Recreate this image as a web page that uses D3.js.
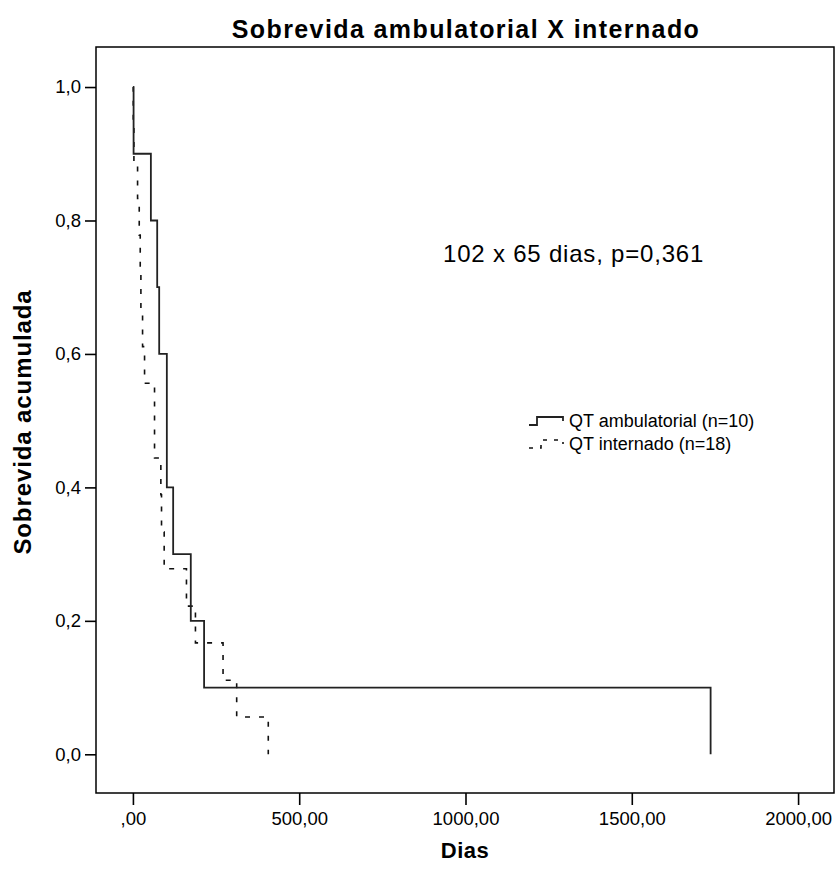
<!DOCTYPE html>
<html>
<head>
<meta charset="utf-8">
<script src="https://cdn.jsdelivr.net/npm/d3@7"></script>
<style>
  body { margin: 0; background: #fff; }
  text { font-family: "Liberation Sans", Arial, sans-serif; fill: #000; }
</style>
</head>
<body>
<svg id="chart" width="835" height="873"></svg>
<script>
// survival steps (time in days, cumulative survival)
var ambTimes = [0, 2, 54, 73, 79, 102, 121, 174, 214, 1737];
var ambSurv  = [1.0, 0.9, 0.8, 0.7, 0.6, 0.4, 0.3, 0.2, 0.1, 0.0];
var intTimes = [0, 1, 3, 14, 19, 22, 24, 29, 35, 65, 84, 86, 94, 161, 188, 271, 312, 407];
var intSurv  = [1.0, 0.944, 0.889, 0.833, 0.778, 0.722, 0.667, 0.611, 0.556, 0.444, 0.389, 0.333, 0.278, 0.222, 0.167, 0.111, 0.056, 0.0];
var xTicks = [0, 500, 1000, 1500, 2000];
var xTickLabels = [",00", "500,00", "1000,00", "1500,00", "2000,00"];
var yTicks = [0, 0.2, 0.4, 0.6, 0.8, 1.0];
var yTickLabels = ["0,0", "0,2", "0,4", "0,6", "0,8", "1,0"];
var legendLabels = ["QT ambulatorial (n=10)", "QT internado (n=18)"];

var svg = d3.select("#chart");
var pLeft = 96, pRight = 834, pTop = 47, pBottom = 793;

var x = d3.scaleLinear().domain([-111, 2108]).range([pLeft, pRight]);
var y = d3.scaleLinear().domain([-0.058, 1.06]).range([pBottom, pTop]);

// title
svg.append("text")
    .attr("x", 466).attr("y", 38)
    .attr("text-anchor", "middle")
    .style("font-size", "25px").style("font-weight", "bold")
    .style("letter-spacing", "1.4px")
    .text("Sobrevida ambulatorial X internado");

// axes
var axisX = d3.axisBottom(x).tickValues(xTicks)
    .tickFormat(function(d, i) { return xTickLabels[i]; })
    .tickSize(12).tickSizeOuter(0);
svg.append("g")
    .attr("class", "axis-X")
    .attr("transform", "translate(0," + pBottom + ")")
    .call(axisX);

var axisY = d3.axisLeft(y).tickValues(yTicks)
    .tickFormat(function(d, i) { return yTickLabels[i]; })
    .tickSize(11).tickSizeOuter(0);
svg.append("g")
    .attr("class", "axis-Y")
    .attr("transform", "translate(" + pLeft + ",0)")
    .call(axisY);

svg.selectAll(".axis-X path, .axis-Y path").remove();
svg.selectAll(".tick line").attr("stroke", "#000").attr("stroke-width", 1.6);
svg.selectAll(".tick text")
    .style("font-size", "18.5px")
    .style("font-family", "'Liberation Sans', Arial, sans-serif");
svg.selectAll(".axis-X .tick text").attr("y", 13).attr("dy", "1.05em");
svg.selectAll(".axis-Y .tick text").attr("x", -15);

// frame
svg.append("rect")
    .attr("x", pLeft).attr("y", pTop)
    .attr("width", pRight - pLeft).attr("height", pBottom - pTop)
    .attr("fill", "none").attr("stroke", "#000").attr("stroke-width", 1.5);

// axis titles
svg.append("text")
    .attr("x", 465).attr("y", 858)
    .attr("text-anchor", "middle")
    .style("font-size", "22px").style("font-weight", "bold")
    .style("letter-spacing", "0.5px")
    .text("Dias");
svg.append("text")
    .attr("transform", "translate(31,422) rotate(-90)")
    .attr("text-anchor", "middle")
    .style("font-size", "24px").style("font-weight", "bold")
    .style("letter-spacing", "0.9px")
    .text("Sobrevida acumulada");

// curves
var line = d3.line()
    .x(function(d) { return x(d[0]); })
    .y(function(d) { return y(d[1]); })
    .curve(d3.curveStepAfter);

var intData = intTimes.map(function(t, i) { return [t, intSurv[i]]; });
var ambData = ambTimes.map(function(t, i) { return [t, ambSurv[i]]; });

svg.append("path")
    .datum(intData)
    .attr("d", line)
    .attr("fill", "none").attr("stroke", "#111")
    .attr("stroke-width", 1.6)
    .attr("stroke-dasharray", "5,9");

svg.append("path")
    .datum(ambData)
    .attr("d", line)
    .attr("fill", "none").attr("stroke", "#222")
    .attr("stroke-width", 1.8);

// annotation
svg.append("text")
    .attr("x", 443).attr("y", 262)
    .style("font-size", "24px")
    .style("letter-spacing", "0.8px")
    .text("102 x 65 dias, p=0,361");

// legend
var lg = svg.append("g").attr("transform", "translate(529,0)");
lg.append("path")
    .attr("d", "M0,425H8V417H34V421")
    .attr("fill", "none").attr("stroke", "#222").attr("stroke-width", 1.8);
lg.append("path")
    .attr("d", "M0,448H12V440H34V444")
    .attr("fill", "none").attr("stroke", "#111").attr("stroke-width", 1.6)
    .attr("stroke-dasharray", "4,7");
lg.selectAll("text.leg")
    .data(legendLabels)
    .enter().append("text")
    .attr("class", "leg")
    .attr("x", 40)
    .attr("y", function(d, i) { return 427 + i * 23; })
    .style("font-size", "18px")
    .text(function(d) { return d; });
</script>
</body>
</html>
